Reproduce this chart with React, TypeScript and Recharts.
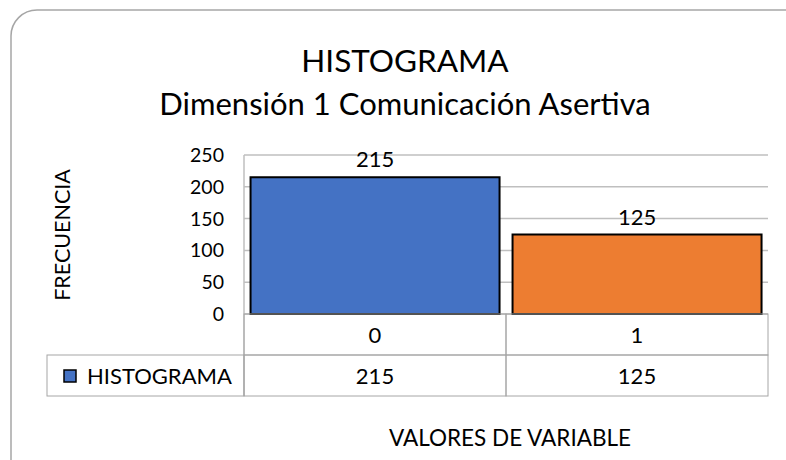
import React from 'react';
import { BarChart, Bar, XAxis, YAxis, CartesianGrid, Cell, LabelList } from 'recharts';

const categories = ['0', '1'];
const frequencies = [215, 125];
const barColors = ['#4472C4', '#ED7D31'];
const yTicks = [0, 50, 100, 150, 200, 250];
const seriesName = 'HISTOGRAMA';
const titleLine1 = 'HISTOGRAMA';
const titleLine2 = 'Dimensión 1 Comunicación Asertiva';
const yTitle = 'FRECUENCIA';
const xTitle = 'VALORES DE VARIABLE';

const data = categories.map((c, i) => ({ cat: c, value: frequencies[i] }));

const FONT = 'Lato, "Open Sans", sans-serif';
const GRID = '#BFBFBF';
const TABLE = '#A6A6A6';
const ROW_H = 41;
const LEGEND_W = 197;

const TableTick = (props: any) => {
  const { x, y, payload, index } = props;
  const half = payload.offset || 131;
  const left = x - half;
  const w = half * 2;
  return (
    <g>
      <rect x={left} y={y} width={w} height={ROW_H} fill="none" stroke={TABLE} strokeWidth={1} />
      <text x={x} y={y + ROW_H / 2 + 8} textAnchor="middle" fontSize={22} fontFamily={FONT} fill="#000">
        {payload.value}
      </text>
      <rect x={left} y={y + ROW_H} width={w} height={ROW_H} fill="none" stroke={TABLE} strokeWidth={1} />
      <text x={x} y={y + ROW_H * 1.5 + 8} textAnchor="middle" fontSize={22} fontFamily={FONT} fill="#000">
        {frequencies[index]}
      </text>
      {index === 0 && (
        <g>
          <rect x={left - LEGEND_W} y={y + ROW_H} width={LEGEND_W} height={ROW_H} fill="none" stroke={TABLE} strokeWidth={1} />
          <rect x={left - LEGEND_W + 17} y={y + ROW_H + 15} width={12} height={12} fill={barColors[0]} stroke="#000" strokeWidth={1.5} />
          <text x={left - LEGEND_W + 40} y={y + ROW_H * 1.5 + 8} fontSize={22} fontFamily={FONT} fill="#000">
            {seriesName}
          </text>
        </g>
      )}
    </g>
  );
};

export default function App() {
  return (
    <div style={{ position: 'absolute', left: 0, top: 0, width: 786, height: 460, background: '#fff', overflow: 'hidden' }}>
      <BarChart
        width={786}
        height={460}
        data={data}
        margin={{ top: 155, right: 18, bottom: 0, left: 184 }}
        barCategoryGap="2.5%"
      >
        <CartesianGrid vertical={false} stroke={GRID} strokeWidth={1.5} />
        <XAxis
          dataKey="cat"
          height={146}
          axisLine={false}
          tickLine={false}
          tickSize={0}
          tickMargin={0}
          interval={0}
          tick={<TableTick />}
        />
        <YAxis
          width={60}
          domain={[0, 250]}
          ticks={yTicks}
          axisLine={{ stroke: GRID, strokeWidth: 1.5 }}
          tickLine={false}
          tickMargin={14}
          tick={{ fontSize: 19.5, fontFamily: FONT, fill: '#000' }}
        />
        <Bar dataKey="value" isAnimationActive={false} stroke="#000" strokeWidth={2}>
          {data.map((d, i) => (
            <Cell key={d.cat} fill={barColors[i]} />
          ))}
          <LabelList dataKey="value" position="top" offset={10} style={{ fontSize: 22, fontFamily: FONT, fill: '#000' }} />
        </Bar>
      </BarChart>
      <svg width={786} height={460} style={{ position: 'absolute', left: 0, top: 0, pointerEvents: 'none' }}>
        <rect x={11} y={10} width={800} height={480} rx={26} ry={26} fill="none" stroke="#A6A6A6" strokeWidth={1.5} />
        <line x1={244} y1={314} x2={244} y2={396} stroke={TABLE} strokeWidth={1} />
        <text x={405} y={72} textAnchor="middle" fontSize={31.5} fontFamily={FONT} fill="#000">{titleLine1}</text>
        <text x={405} y={115} textAnchor="middle" fontSize={31} fontFamily={FONT} fill="#000">{titleLine2}</text>
        <text x={70} y={235} textAnchor="middle" fontSize={21.5} fontFamily={FONT} fill="#000" transform="rotate(-90 70 235)">{yTitle}</text>
        <text x={510} y={446} textAnchor="middle" fontSize={22.5} fontFamily={FONT} fill="#000">{xTitle}</text>
      </svg>
    </div>
  );
}
